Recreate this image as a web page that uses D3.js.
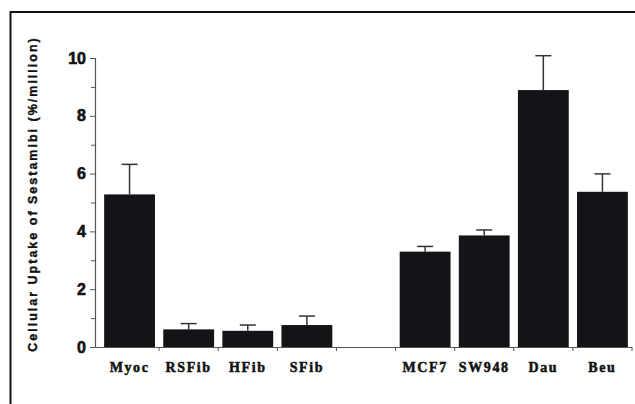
<!DOCTYPE html>
<html>
<head>
<meta charset="utf-8">
<script src="https://cdn.jsdelivr.net/npm/d3@7"></script>
<style>
  body { margin: 0; background: #fff; }
  svg { display: block; }
</style>
</head>
<body>
<div id="chart"></div>
<script>
// categories (empty slot "" is the gap between the two groups)
const categories = ["Myoc", "RSFib", "HFib", "SFib", "", "MCF7", "SW948", "Dau", "Beu"];
const uptake = [5.28, 0.61, 0.56, 0.76, null, 3.30, 3.86, 8.89, 5.37];
const errTop = [6.32, 0.81, 0.76, 1.07, null, 3.48, 4.05, 10.08, 5.99];
const yTicks = [0, 2, 4, 6, 8, 10];
const yMinor = [1, 3, 5, 7, 9];

const W = 635, H = 404;
const svg = d3.select("#chart").append("svg")
  .attr("width", W)
  .attr("height", H);

// frame: top and left edges
svg.append("line").attr("x1", 10).attr("x2", W).attr("y1", 12).attr("y2", 12)
  .attr("stroke", "#111").attr("stroke-width", 2);
svg.append("line").attr("x1", 10.5).attr("x2", 10.5).attr("y1", 11).attr("y2", H)
  .attr("stroke", "#111").attr("stroke-width", 2);

const x = d3.scaleBand()
  .domain(categories.map((d, i) => i))
  .range([100, 632])
  .paddingInner(0.14)
  .paddingOuter(0.07);

const y = d3.scaleLinear()
  .domain([0, 10])
  .range([347, 58]);

const data = categories.map((c, i) => ({ i, c, v: uptake[i], e: errTop[i] }))
  .filter(d => d.v != null);

// y axis
const yAxis = svg.append("g")
  .attr("transform", "translate(95,0)")
  .call(d3.axisLeft(y).tickValues(yTicks).tickSize(5).tickPadding(4).tickFormat(d3.format("d")));
yAxis.select(".domain").attr("stroke", "#555").attr("stroke-width", 1.2);
yAxis.selectAll(".tick line").attr("stroke", "#555");
yAxis.selectAll(".tick text")
  .attr("font-family", "Liberation Sans, Arial, sans-serif")
  .attr("font-weight", "bold")
  .attr("font-size", 16)
  .attr("fill", "#111")
  .attr("stroke", "#111")
  .attr("stroke-width", 0.6);
svg.append("g")
  .attr("transform", "translate(95,0)")
  .call(d3.axisLeft(y).tickValues(yMinor).tickSize(4).tickFormat(""))
  .call(g => g.select(".domain").remove())
  .selectAll(".tick line").attr("stroke", "#555");

// x axis line with ticks at band edges
const xEdges = d3.range(categories.length + 1).map(i => 100 + i * x.step());
svg.append("line").attr("x1", 95).attr("x2", 632).attr("y1", 347.5).attr("y2", 347.5)
  .attr("stroke", "#555").attr("stroke-width", 1.2);
svg.selectAll(".xtick").data(xEdges.slice(1)).enter().append("line")
  .attr("x1", d => d).attr("x2", d => d)
  .attr("y1", 347).attr("y2", 351)
  .attr("stroke", "#555");

// bars
svg.selectAll("rect.bar").data(data).enter().append("rect")
  .attr("class", "bar")
  .attr("x", d => x(d.i))
  .attr("y", d => y(d.v))
  .attr("width", x.bandwidth())
  .attr("height", d => y(0) - y(d.v))
  .attr("fill", "#141418");

// error bars (upper only)
const eb = svg.selectAll("g.err").data(data).enter().append("g").attr("class", "err");
eb.append("line")
  .attr("x1", d => x(d.i) + x.bandwidth() / 2)
  .attr("x2", d => x(d.i) + x.bandwidth() / 2)
  .attr("y1", d => y(d.v))
  .attr("y2", d => y(d.e))
  .attr("stroke", "#333").attr("stroke-width", 1.5);
eb.append("line")
  .attr("x1", d => x(d.i) + x.bandwidth() / 2 - 8)
  .attr("x2", d => x(d.i) + x.bandwidth() / 2 + 8)
  .attr("y1", d => y(d.e))
  .attr("y2", d => y(d.e))
  .attr("stroke", "#333").attr("stroke-width", 1.5);

// category labels
svg.selectAll("text.cat").data(data).enter().append("text")
  .attr("class", "cat")
  .attr("x", d => x(d.i) + x.bandwidth() / 2)
  .attr("y", 372)
  .attr("text-anchor", "middle")
  .attr("font-family", "Liberation Serif, Times New Roman, serif")
  .attr("font-weight", "bold")
  .attr("font-size", 14)
  .attr("letter-spacing", 1.6)
  .attr("fill", "#111")
  .attr("stroke", "#111")
  .attr("stroke-width", 0.5)
  .text(d => d.c);

// y axis title
svg.append("text")
  .attr("transform", "translate(37,194) rotate(-90)")
  .attr("text-anchor", "middle")
  .attr("font-family", "Liberation Sans, Arial, sans-serif")
  .attr("font-weight", "bold")
  .attr("font-size", 12.5)
  .attr("letter-spacing", 2)
  .attr("fill", "#111")
  .attr("stroke", "#111")
  .attr("stroke-width", 0.4)
  .text("Cellular Uptake of Sestamibi (%/million)");
</script>
</body>
</html>
